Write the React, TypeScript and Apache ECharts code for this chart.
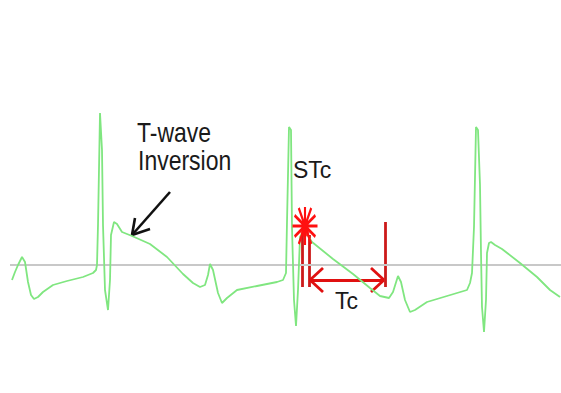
import React, { useEffect, useRef } from "react";
import * as echarts from "echarts";

// ECG trace: time (px-like units) and amplitude relative to isoelectric baseline
const ecgTime = [12, 15, 18, 22, 25, 28, 31, 34, 38, 43, 53, 67, 83, 93, 96, 97, 98, 100, 102, 103, 105, 108, 110, 111, 114, 117, 122, 132, 150, 167, 183, 193, 200, 205, 208, 210, 213, 218, 222, 227, 237, 257, 277, 283, 286, 287, 289, 291, 292, 294, 296, 298, 300, 304, 312, 333, 353, 370, 380, 389, 393, 398, 401, 405, 410, 415, 427, 447, 467, 470, 472, 474, 476, 478, 480, 481, 482, 484, 486, 487, 489, 491, 495, 502, 520, 537, 550, 560];
const ecgAmp = [-15, -7, 0, 8, 3, -17, -30, -34, -32, -27, -20, -16, -12, -8, -5, 0, 40, 152, 115, 40, -25, -45, -15, 30, 43, 41, 33, 29, 21, 8, -9, -18, -22, -20, -10, 1, -5, -28, -38, -33, -25, -21, -17, -15, -8, 43, 138, 135, 37, -35, -61, -25, 28, 35, 23, 6, -9, -23, -31, -33, -27, -11, -17, -35, -47, -45, -37, -31, -25, -18, -8, 38, 138, 135, 80, 12, -42, -67, -35, 12, 22, 23, 20, 16, 2, -12, -25, -32];

const baselineTime = [10, 561];
const baselineAmp = [0, 0];

// Red measurement marks: [x1, y1, x2, y2]
const stcMarkers = [
  [302, 32, 302, -22],
  [309, 30, 309, -22],
  [385, 43, 385, -22],
];
const tcArrow = [
  [310, -15, 384, -15],
  [310, -15, 323, -3],
  [310, -15, 323, -27],
  [384, -15, 371, -3],
  [384, -15, 371, -27],
];
const stcPoint = [305, 39];

// Black annotation arrow
const inversionArrow = [
  [170, 73, 132, 30],
  [132, 30, 135, 47],
  [132, 30, 150, 36],
];

const labels = {
  tWave: "T-wave",
  inversion: "Inversion",
  stc: "STc",
  tc: "Tc",
};

const toLines = (segs: number[][]) =>
  segs.map((s) => ({ coords: [[s[0], s[1]], [s[2], s[3]]] }));

export default function App() {
  const ref = useRef<HTMLDivElement>(null);
  useEffect(() => {
    document.body.style.margin = "0";
    if (!ref.current) return;
    const chart = echarts.init(ref.current, undefined, { renderer: "svg" });
    const font = "'Liberation Sans', Arial, sans-serif";
    chart.setOption({
      animation: false,
      backgroundColor: "#ffffff",
      grid: { left: 0, right: 0, top: 0, bottom: 0 },
      xAxis: { type: "value", min: 0, max: 561, show: false },
      yAxis: { type: "value", min: -128, max: 265, show: false },
      series: [
        {
          type: "line",
          data: baselineTime.map((t, i) => [t, baselineAmp[i]]),
          showSymbol: false,
          lineStyle: { color: "#c8c8c8", width: 2 },
          silent: true,
        },
        {
          type: "line",
          data: ecgTime.map((t, i) => [t, ecgAmp[i]]),
          showSymbol: false,
          lineStyle: { color: "#80e680", width: 1.8 },
          silent: true,
        },
        {
          type: "lines",
          coordinateSystem: "cartesian2d",
          data: toLines(stcMarkers),
          lineStyle: { color: "#cc1a1a", width: 2.8, opacity: 1, curveness: 0 },
          silent: true,
        },
        {
          type: "lines",
          coordinateSystem: "cartesian2d",
          data: toLines(tcArrow),
          lineStyle: { color: "#e01010", width: 2.8, opacity: 1, curveness: 0 },
          silent: true,
        },
        {
          type: "lines",
          coordinateSystem: "cartesian2d",
          data: toLines(inversionArrow),
          lineStyle: { color: "#111111", width: 2.6, opacity: 1, curveness: 0 },
          silent: true,
        },
        {
          type: "scatter",
          data: [stcPoint],
          symbol:
            "path://M12,0L12,36M0,18L24,18M2,8L22,28M2,28L22,8M6,1L18,35M6,35L18,1",
          symbolSize: [25, 38],
          itemStyle: { color: "#ff1010", borderColor: "#ff1010", borderWidth: 2.6, opacity: 1 },
          silent: true,
          z: 5,
        },
        {
          type: "scatter",
          data: [[stcPoint[0], stcPoint[1] - 6]],
          symbol: "circle",
          symbolSize: 9,
          itemStyle: { color: "#ff1010" },
          silent: true,
          z: 5,
        },
      ],
      graphic: [
        {
          type: "text",
          x: 137,
          y: 132,
          scaleY: 1.2,
          style: { text: labels.tWave, font: `23px ${font}`, fill: "#1a1a1a", verticalAlign: "middle", align: "left" },
        },
        {
          type: "text",
          x: 138,
          y: 160,
          scaleY: 1.2,
          style: { text: labels.inversion, font: `23px ${font}`, fill: "#1a1a1a", verticalAlign: "middle", align: "left" },
        },
        {
          type: "text",
          x: 293,
          y: 170,
          style: { text: labels.stc, font: `23px ${font}`, fill: "#1a1a1a", verticalAlign: "middle", align: "left" },
        },
        {
          type: "text",
          x: 335,
          y: 301,
          style: { text: labels.tc, font: `23px ${font}`, fill: "#1a1a1a", verticalAlign: "middle", align: "left" },
        },
      ],
    });
    return () => chart.dispose();
  }, []);
  return <div ref={ref} style={{ width: 561, height: 393 }} />;
}
